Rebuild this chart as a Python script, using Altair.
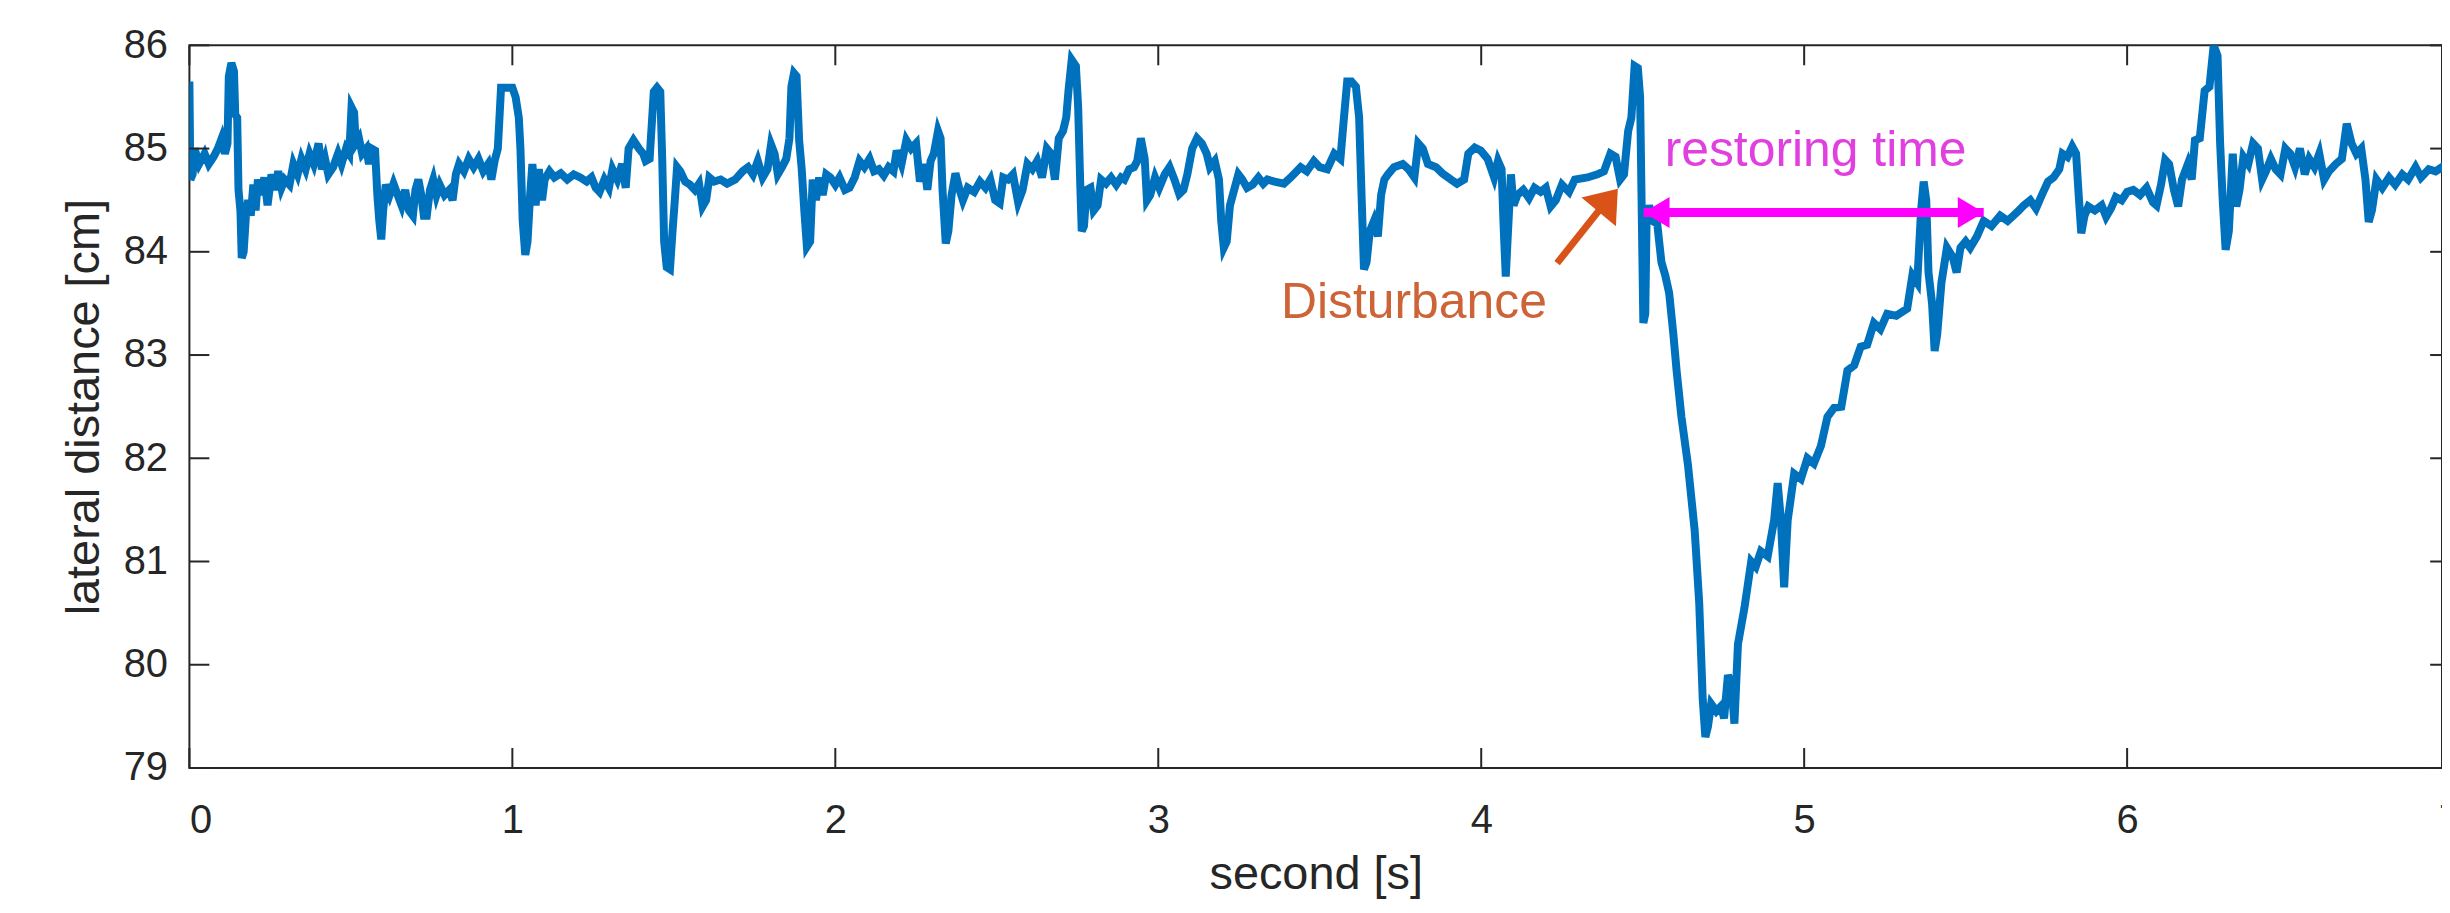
import altair as alt
import pandas as pd

# ---- signal samples (second, lateral distance cm) ----
seg_a = [
    (0.000, 85.65), (0.003, 84.70), (0.010, 84.75), (0.016, 85.00), (0.030, 84.85), (0.047, 84.95),
    (0.060, 84.85), (0.075, 84.92), (0.088, 85.00), (0.100, 85.10), (0.110, 84.95), (0.118, 85.05),
    (0.122, 85.70), (0.130, 85.83), (0.138, 85.75), (0.142, 85.33), (0.148, 85.30), (0.152, 84.60),
    (0.158, 84.40), (0.162, 83.94), (0.168, 84.00), (0.175, 84.35), (0.182, 84.50), (0.190, 84.35),
    (0.198, 84.65), (0.205, 84.40), (0.212, 84.70), (0.222, 84.55), (0.232, 84.72), (0.242, 84.45),
    (0.254, 84.75), (0.265, 84.60), (0.275, 84.78), (0.285, 84.62), (0.295, 84.70), (0.310, 84.65),
    (0.322, 84.85), (0.335, 84.75), (0.347, 84.90), (0.360, 84.80), (0.372, 84.95), (0.385, 84.85),
    (0.400, 85.05), (0.410, 84.80), (0.420, 84.90), (0.430, 84.75), (0.445, 84.82), (0.460, 84.95),
    (0.471, 84.85), (0.485, 85.00), (0.495, 84.95), (0.502, 85.40), (0.510, 85.35), (0.515, 85.05),
    (0.525, 85.10), (0.535, 84.95), (0.548, 85.00), (0.556, 84.85), (0.564, 85.00), (0.575, 84.98),
    (0.582, 84.55), (0.588, 84.30), (0.594, 84.12), (0.600, 84.40), (0.608, 84.65), (0.620, 84.55),
    (0.632, 84.66), (0.645, 84.55), (0.657, 84.45), (0.668, 84.60), (0.680, 84.40), (0.692, 84.35),
    (0.700, 84.60), (0.709, 84.70), (0.718, 84.55), (0.726, 84.35), (0.735, 84.35), (0.745, 84.60),
    (0.755, 84.70), (0.765, 84.55), (0.775, 84.65), (0.790, 84.55), (0.805, 84.60), (0.815, 84.50),
    (0.825, 84.75), (0.835, 84.85), (0.850, 84.78), (0.865, 84.90), (0.880, 84.82), (0.895, 84.90),
    (0.910, 84.78), (0.925, 84.85), (0.935, 84.70), (0.945, 84.88), (0.955, 85.00), (0.965, 85.59),
    (0.985, 85.59), (1.000, 85.59), (1.010, 85.50), (1.020, 85.30), (1.025, 85.00), (1.032, 84.30),
    (1.040, 83.97), (1.047, 84.10), (1.055, 84.55), (1.062, 84.85), (1.072, 84.45), (1.082, 84.80),
    (1.092, 84.50), (1.100, 84.70), (1.115, 84.78), (1.130, 84.72), (1.150, 84.76), (1.170, 84.70),
    (1.190, 84.75), (1.210, 84.72),
]
seg_b = [
    (1.230, 84.68), (1.245, 84.72), (1.258, 84.62), (1.270, 84.58), (1.285, 84.70), (1.299, 84.62),
    (1.310, 84.80), (1.325, 84.70), (1.340, 84.85), (1.351, 84.62), (1.360, 85.00), (1.375, 85.08),
    (1.392, 85.00), (1.405, 84.95), (1.413, 84.88), (1.425, 84.90), (1.438, 85.55), (1.448, 85.59),
    (1.458, 85.55), (1.464, 84.90), (1.470, 84.10), (1.478, 83.85), (1.488, 83.83), (1.496, 84.20),
    (1.503, 84.50), (1.510, 84.82), (1.520, 84.78), (1.535, 84.68), (1.550, 84.65), (1.565, 84.60),
    (1.578, 84.66), (1.589, 84.44), (1.600, 84.50), (1.610, 84.72), (1.625, 84.68), (1.645, 84.70),
    (1.665, 84.66), (1.690, 84.70), (1.713, 84.78), (1.730, 84.82), (1.745, 84.75), (1.760, 84.88),
    (1.775, 84.72), (1.790, 84.80), (1.801, 85.04), (1.812, 84.95), (1.822, 84.75), (1.835, 84.82),
    (1.848, 84.90), (1.858, 85.10), (1.864, 85.60), (1.872, 85.73), (1.880, 85.70), (1.888, 85.08),
    (1.896, 84.80), (1.904, 84.40), (1.912, 84.05), (1.922, 84.10), (1.930, 84.70), (1.940, 84.50),
    (1.950, 84.72), (1.961, 84.55), (1.972, 84.75), (1.985, 84.72), (2.000, 84.65), (2.013, 84.72),
    (2.030, 84.60), (2.044, 84.62), (2.060, 84.72), (2.075, 84.88), (2.090, 84.82), (2.106, 84.90),
    (2.120, 84.78), (2.135, 84.80), (2.150, 84.74), (2.165, 84.82), (2.180, 84.78), (2.190, 84.98),
    (2.205, 84.85), (2.220, 85.08), (2.235, 85.00), (2.250, 85.05), (2.262, 84.68), (2.275, 84.85),
    (2.285, 84.60), (2.295, 84.88), (2.305, 84.95), (2.318, 85.17), (2.326, 85.10), (2.332, 84.60),
    (2.342, 84.08), (2.350, 84.20), (2.360, 84.55), (2.372, 84.76), (2.385, 84.60), (2.395, 84.50),
    (2.410, 84.62),
]
seg_c = [
    (2.430, 84.58), (2.448, 84.68), (2.465, 84.62), (2.480, 84.70), (2.495, 84.50), (2.509, 84.47),
    (2.520, 84.72), (2.535, 84.70), (2.550, 84.75), (2.566, 84.48), (2.580, 84.60), (2.595, 84.85),
    (2.610, 84.80), (2.625, 84.88), (2.640, 84.72), (2.655, 85.00), (2.668, 84.95), (2.680, 84.70),
    (2.692, 85.10), (2.705, 85.17), (2.715, 85.30), (2.722, 85.56), (2.732, 85.86), (2.745, 85.80),
    (2.752, 85.40), (2.758, 84.70), (2.763, 84.20), (2.770, 84.25), (2.778, 84.60), (2.790, 84.62),
    (2.800, 84.40), (2.812, 84.45), (2.823, 84.70), (2.838, 84.66), (2.854, 84.72), (2.870, 84.65),
    (2.885, 84.72), (2.895, 84.70), (2.910, 84.80), (2.925, 84.82), (2.935, 84.88), (2.946, 85.10),
    (2.958, 84.90), (2.965, 84.50), (2.975, 84.55), (2.990, 84.72), (3.003, 84.62), (3.020, 84.75),
    (3.035, 84.82), (3.050, 84.70), (3.065, 84.56), (3.078, 84.60), (3.090, 84.75), (3.105, 85.00),
    (3.120, 85.10), (3.135, 85.05), (3.150, 84.95), (3.160, 84.82), (3.175, 84.88), (3.188, 84.70),
    (3.195, 84.30), (3.203, 84.04), (3.212, 84.10), (3.222, 84.45), (3.235, 84.60), (3.248, 84.75),
    (3.260, 84.70), (3.275, 84.62), (3.292, 84.65), (3.310, 84.72), (3.325, 84.66), (3.338, 84.70),
    (3.360, 84.68), (3.389, 84.66), (3.410, 84.72), (3.441, 84.82), (3.460, 84.78), (3.482, 84.88),
    (3.500, 84.82), (3.523, 84.80), (3.545, 84.95), (3.564, 84.90), (3.575, 85.30), (3.585, 85.65),
]
seg_d = [
    (3.598, 85.65), (3.612, 85.60), (3.622, 85.30), (3.630, 84.50), (3.637, 83.83), (3.645, 83.90),
    (3.655, 84.20), (3.668, 84.30), (3.680, 84.15), (3.690, 84.55), (3.700, 84.70), (3.711, 84.75),
    (3.730, 84.82), (3.757, 84.85), (3.775, 84.80), (3.793, 84.72), (3.805, 85.05), (3.819, 85.00),
    (3.835, 84.85), (3.860, 84.82), (3.880, 84.76), (3.906, 84.70), (3.925, 84.66), (3.947, 84.70),
    (3.960, 84.95), (3.980, 85.01), (3.999, 84.98), (4.020, 84.90), (4.040, 84.72), (4.052, 84.88),
    (4.063, 84.80), (4.070, 84.20), (4.076, 83.76), (4.083, 84.20), (4.092, 84.75), (4.100, 84.45),
    (4.112, 84.55), (4.130, 84.60), (4.148, 84.52), (4.165, 84.62), (4.184, 84.58), (4.200, 84.62),
    (4.215, 84.44), (4.231, 84.50), (4.250, 84.65), (4.272, 84.58), (4.290, 84.70), (4.329, 84.72),
    (4.360, 84.75), (4.380, 84.78), (4.400, 84.95), (4.416, 84.92), (4.430, 84.70), (4.442, 84.75),
    (4.455, 85.17), (4.465, 85.30), (4.475, 85.80), (4.485, 85.78),
]
seg_e = [
    (4.492, 85.50), (4.497, 84.40), (4.502, 83.31), (4.508, 83.40), (4.512, 84.30), (4.520, 84.45),
    (4.530, 84.30), (4.545, 84.27), (4.558, 83.90), (4.570, 83.77), (4.582, 83.60), (4.595, 83.20),
    (4.605, 82.85), (4.620, 82.40), (4.640, 81.94), (4.661, 81.30), (4.675, 80.60), (4.686, 79.66),
    (4.694, 79.30), (4.702, 79.40), (4.712, 79.62), (4.728, 79.55), (4.743, 79.60), (4.752, 79.48),
    (4.764, 79.90), (4.775, 79.80), (4.784, 79.43), (4.795, 80.20), (4.815, 80.55), (4.836, 81.00),
    (4.850, 80.95), (4.866, 81.10), (4.887, 81.05), (4.907, 81.40), (4.918, 81.76), (4.928, 81.40),
    (4.938, 80.75), (4.949, 81.40), (4.958, 81.60), (4.969, 81.85), (4.990, 81.80), (5.010, 82.00),
    (5.030, 81.95), (5.052, 82.12), (5.072, 82.40), (5.093, 82.49), (5.115, 82.50), (5.134, 82.85),
    (5.155, 82.90), (5.175, 83.08), (5.195, 83.10), (5.216, 83.31), (5.236, 83.25), (5.257, 83.40),
    (5.285, 83.38), (5.319, 83.45), (5.335, 83.77), (5.350, 83.70), (5.362, 84.40), (5.370, 84.68),
    (5.378, 84.50), (5.385, 83.80), (5.396, 83.50), (5.404, 83.04), (5.412, 83.20), (5.425, 83.70),
    (5.442, 84.04), (5.460, 83.95), (5.472, 83.80), (5.484, 84.04), (5.500, 84.10), (5.514, 84.04),
    (5.535, 84.15), (5.556, 84.30), (5.580, 84.25), (5.607, 84.35), (5.630, 84.30), (5.648, 84.35),
]
seg_f = [
    (5.665, 84.40), (5.680, 84.45), (5.700, 84.50), (5.718, 84.42), (5.736, 84.55), (5.755, 84.68),
    (5.772, 84.72), (5.790, 84.80), (5.800, 84.95), (5.815, 84.92), (5.830, 85.02), (5.842, 84.95),
    (5.850, 84.55), (5.858, 84.18), (5.868, 84.35), (5.880, 84.44), (5.900, 84.40), (5.921, 84.45),
    (5.935, 84.34), (5.950, 84.42), (5.965, 84.53), (5.983, 84.50), (6.000, 84.58), (6.019, 84.60),
    (6.040, 84.55), (6.060, 84.62), (6.080, 84.48), (6.091, 84.45), (6.105, 84.65), (6.118, 84.89),
    (6.130, 84.85), (6.145, 84.60), (6.158, 84.44), (6.170, 84.70), (6.188, 84.85), (6.200, 84.70),
    (6.210, 85.08), (6.225, 85.10), (6.240, 85.56), (6.255, 85.60), (6.268, 86.00), (6.280, 85.90),
    (6.288, 85.05), (6.296, 84.50), (6.305, 84.02), (6.315, 84.20), (6.327, 84.95), (6.338, 84.44),
    (6.348, 84.60), (6.360, 84.92), (6.375, 84.85), (6.390, 85.05), (6.405, 85.00), (6.418, 84.70),
    (6.430, 84.78), (6.445, 84.90), (6.460, 84.80), (6.475, 84.75), (6.490, 85.00), (6.505, 84.95),
    (6.520, 84.82), (6.535, 85.00), (6.550, 84.75), (6.564, 84.90), (6.580, 84.82), (6.595, 84.95),
    (6.610, 84.70), (6.625, 84.78), (6.646, 84.85), (6.665, 84.90), (6.680, 85.24), (6.695, 85.05),
    (6.710, 84.95), (6.725, 85.00), (6.738, 84.70), (6.748, 84.29), (6.758, 84.40), (6.772, 84.70),
    (6.790, 84.62), (6.811, 84.72), (6.830, 84.65), (6.852, 84.75), (6.870, 84.70), (6.893, 84.82),
    (6.910, 84.72), (6.934, 84.80), (6.955, 84.78), (6.975, 84.82), (7.000, 84.80),
]

x_ticks = [0, 1, 2, 3, 4, 5, 6, 7]
y_ticks = [79, 80, 81, 82, 83, 84, 85, 86]

# annotations (data coordinates)
disturb_text = {"t": 3.38, "d": 83.355, "label": "Disturbance"}
disturb_arrow = {"t": 4.235, "d": 83.89, "t2": 4.40, "d2": 84.54, "tip_t": 4.423, "tip_d": 84.61}
restore_text = {"t": 4.568, "d": 84.83, "label": "restoring time"}
restore_arrow = {"t": 4.503, "t2": 5.556, "d": 84.38}

W, H = 2260, 725
X_MAX = 6.975
FONT = "Liberation Sans"
AX = "#262626"

signal = pd.DataFrame(seg_a + seg_b + seg_c + seg_d + seg_e + seg_f, columns=["t", "d"])

xs = alt.Scale(domain=[0, X_MAX], nice=False, zero=False)
ys = alt.Scale(domain=[79, 86], nice=False, zero=False)

line = alt.Chart(signal).mark_line(color="#0072BD", strokeWidth=8, clip=True).encode(
    x=alt.X("t:Q", scale=xs, axis=alt.Axis(
        values=x_ticks, format="d", title="second [s]", ticks=False, domain=False, grid=False,
        labelFont=FONT, labelFontSize=40, labelColor=AX, labelPadding=33,
        titleFont=FONT, titleFontSize=47, titleColor=AX, titleFontWeight="normal",
        titleX=W / 2, titleY=121, titleBaseline="alphabetic", titleAlign="center")),
    y=alt.Y("d:Q", scale=ys, axis=alt.Axis(
        values=y_ticks, format="d", title="lateral distance [cm]", ticks=False, domain=False, grid=False,
        labelFont=FONT, labelFontSize=40, labelColor=AX, labelPadding=22,
        titleFont=FONT, titleFontSize=47, titleColor=AX, titleFontWeight="normal",
        titleX=-91, titleY=H / 2, titleAngle=270, titleBaseline="alphabetic", titleAlign="center")),
)

xt = pd.DataFrame({"t": x_ticks})
yt = pd.DataFrame({"d": y_ticks})
tick_style = dict(color=AX, strokeWidth=2)
bottom_ticks = alt.Chart(xt).mark_rule(y2Offset=-20, **tick_style).encode(
    x=alt.X("t:Q", scale=xs), y=alt.datum(79, scale=ys), y2=alt.datum(79))
top_ticks = alt.Chart(xt).mark_rule(y2Offset=20, **tick_style).encode(
    x=alt.X("t:Q", scale=xs), y=alt.datum(86, scale=ys), y2=alt.datum(86))
left_ticks = alt.Chart(yt).mark_rule(x2Offset=20, **tick_style).encode(
    y=alt.Y("d:Q", scale=ys), x=alt.datum(0, scale=xs), x2=alt.datum(0))
right_ticks = alt.Chart(yt).mark_rule(x2Offset=-20, **tick_style).encode(
    y=alt.Y("d:Q", scale=ys), x=alt.datum(7, scale=xs), x2=alt.datum(7))

last_label = alt.Chart(pd.DataFrame({"t": [7], "lab": ["7"]})).mark_text(
    font=FONT, fontSize=40, color=AX, baseline="top", align="center").encode(
    x=alt.X("t:Q", scale=xs), y=alt.value(H + 33), text="lab:N")

# Disturbance annotation
d_df = pd.DataFrame([disturb_arrow])
d_shaft = alt.Chart(d_df).mark_rule(color="#D95319", strokeWidth=7).encode(
    x=alt.X("t:Q", scale=xs), y=alt.Y("d:Q", scale=ys), x2="t2:Q", y2="d2:Q")
d_head = alt.Chart(d_df).mark_point(
    shape="M0,0 L-1,-0.75 L-1,0.75 Z", size=3600, filled=True, opacity=1,
    color="#D95319", angle=309.8).encode(
    x=alt.X("tip_t:Q", scale=xs), y=alt.Y("tip_d:Q", scale=ys))
d_text = alt.Chart(pd.DataFrame([disturb_text])).mark_text(
    font=FONT, fontSize=50, color="#CD6437", align="left", baseline="alphabetic").encode(
    x=alt.X("t:Q", scale=xs), y=alt.Y("d:Q", scale=ys), text="label:N")

# restoring time annotation
r_df = pd.DataFrame([restore_arrow])
r_shaft = alt.Chart(r_df).mark_rule(color="#FF00FF", strokeWidth=9).encode(
    x=alt.X("t:Q", scale=xs), x2="t2:Q", y=alt.Y("d:Q", scale=ys))
r_head_l = alt.Chart(r_df).mark_point(
    shape="M0,0 L1,-0.6 L1,0.6 Z", size=2700, filled=True, opacity=1, color="#FF00FF").encode(
    x=alt.X("t:Q", scale=xs), y=alt.Y("d:Q", scale=ys))
r_head_r = alt.Chart(r_df).mark_point(
    shape="M0,0 L-1,-0.6 L-1,0.6 Z", size=2700, filled=True, opacity=1, color="#FF00FF").encode(
    x=alt.X("t2:Q", scale=xs), y=alt.Y("d:Q", scale=ys))
r_text = alt.Chart(pd.DataFrame([restore_text])).mark_text(
    font=FONT, fontSize=50, color="#E040E0", align="left", baseline="alphabetic").encode(
    x=alt.X("t:Q", scale=xs), y=alt.Y("d:Q", scale=ys), text="label:N")

chart = alt.layer(
    line, bottom_ticks, top_ticks, left_ticks, right_ticks, last_label,
    d_shaft, d_head, d_text, r_shaft, r_head_l, r_head_r, r_text,
).properties(
    width=W, height=H,
    background="white",
    autosize=alt.AutoSizeParams(type="none"),
    padding={"left": 182, "top": 36, "right": 0, "bottom": 131},
).configure_view(
    stroke=AX, strokeWidth=2,
)

chart.save("out.html", embed_options={"renderer": "svg", "actions": False})
